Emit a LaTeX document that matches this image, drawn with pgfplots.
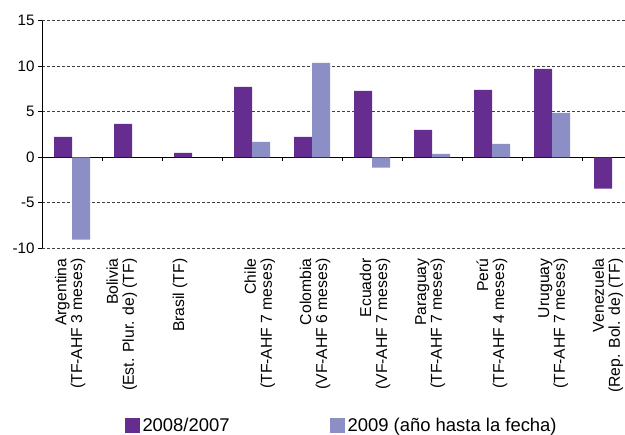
\documentclass[border=0pt]{standalone}
\usepackage{fontspec}
\setmainfont{Liberation Sans}
\usepackage{pgfplots}
\pgfplotsset{compat=1.18}
\definecolor{cpurple}{RGB}{102,45,145}
\definecolor{clight}{RGB}{139,143,198}
\newcommand{\lbl}{\fontsize{15.8}{16}\selectfont}
\newcommand{\tck}{\fontsize{15.2}{16}\selectfont}
\newcommand{\leg}{\fontsize{18.5}{19}\selectfont}
\begin{document}
\begin{tikzpicture}
\begin{axis}[
  at={(42bp,186.6bp)}, anchor=south west,
  scale only axis, width=600bp, height=227.8bp,
  xmin=-0.5, xmax=9.5, ymin=-10, ymax=15,
  clip=false,
  ytick={-10,-5,0,5,10,15},
  xtick={0.5,1.5,...,8.5}, xticklabels={},
  axis y line*=left, axis x line*=middle,
  tick align=outside, major tick length=4bp,
  every tick/.style={black, line width=0.8bp},
  axis line style={black, line width=0.9bp},
  ymajorgrids,
  major grid style={black!75, line width=0.8bp, dash pattern=on 2.5bp off 2.5bp},
  ybar=0pt, bar width=18bp,
  /pgf/number format/assume math mode=true,
  tick label style={font=\tck},
  yticklabel style={xshift=0bp},
  legend columns=2,
  legend style={at={(0.138,-0.734)}, anchor=north west, draw=none, font=\leg,
    /tikz/every even column/.append style={column sep=98bp},
    nodes={inner xsep=2.5bp},
    legend cell align=left, inner sep=0pt},
  legend image code/.code={\fill[#1] (0bp,-7.5bp) rectangle (15bp,7.5bp);},
]
\addplot[fill=cpurple, draw=none] coordinates {(0,2.23) (1,3.66) (2,0.48) (3,7.72) (4,2.23) (5,7.28) (6,3.0) (7,7.39) (8,9.7) (9,-3.44)};
\addplot[fill=clight, draw=none] coordinates {(0,-9.04) (3,1.68) (4,10.35) (5,-1.13) (6,0.37) (7,1.46) (8,4.87)};
\legend{2008/2007, 2009 (año hasta la fecha)}
\node[anchor=east, rotate=90, align=right, font=\lbl] at ([yshift=-6.6bp]axis cs:-0.03,-10) {Argentina\\(TF-AHF 3 meses)};
\node[anchor=east, rotate=90, align=right, font=\lbl] at ([yshift=-6.6bp]axis cs:0.83,-10) {Bolivia\\(Est. Plur. de) (TF)};
\node[anchor=east, rotate=90, align=right, font=\lbl] at ([yshift=-6.6bp]axis cs:1.8,-10) {Brasil (TF)};
\node[anchor=east, rotate=90, align=right, font=\lbl] at ([yshift=-6.6bp]axis cs:3.13,-10) {Chile\\(TF-AHF 7 meses)};
\node[anchor=east, rotate=90, align=right, font=\lbl] at ([yshift=-6.6bp]axis cs:4.05,-10) {Colombia\\(VF-AHF 6 meses)};
\node[anchor=east, rotate=90, align=right, font=\lbl] at ([yshift=-6.6bp]axis cs:5.05,-10) {Ecuador\\(VF-AHF 7 meses)};
\node[anchor=east, rotate=90, align=right, font=\lbl] at ([yshift=-6.6bp]axis cs:5.97,-10) {Paraguay\\(TF-AHF 7 meses)};
\node[anchor=east, rotate=90, align=right, font=\lbl] at ([yshift=-6.6bp]axis cs:7.0,-10) {Perú\\(TF-AHF 4 meses)};
\node[anchor=east, rotate=90, align=right, font=\lbl] at ([yshift=-6.6bp]axis cs:8.02,-10) {Uruguay\\(TF-AHF 7 meses)};
\node[anchor=east, rotate=90, align=right, font=\lbl] at ([yshift=-6.6bp]axis cs:8.93,-10) {Venezuela\\(Rep. Bol. de) (TF)};
\end{axis}
\pgfresetboundingbox
\useasboundingbox (0,0) rectangle (625bp,435bp);
\end{tikzpicture}
\end{document}
